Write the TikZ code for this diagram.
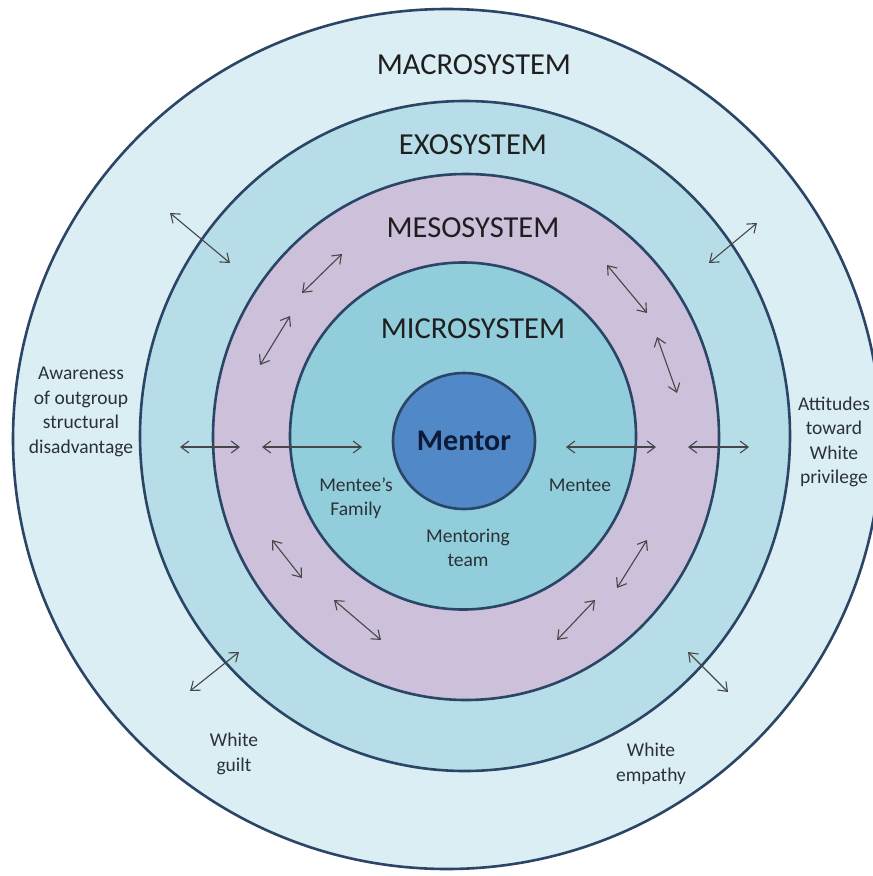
\documentclass[tikz,border=0pt]{standalone}
\usepackage{fontspec}
\setmainfont{Carlito}
\usetikzlibrary{arrows.meta,shapes.geometric}
\definecolor{macrofill}{HTML}{DBEEF4}
\definecolor{exofill}{HTML}{B7DEE8}
\definecolor{mesofill}{HTML}{CCC0DA}
\definecolor{microfill}{HTML}{92CDDC}
\definecolor{mentorfill}{HTML}{5088C8}
\definecolor{ringline}{HTML}{2A4566}
\definecolor{labeltext}{HTML}{2A3236}
\definecolor{mentortext}{HTML}{0E1B38}

\begin{document}
\begin{tikzpicture}[x=1pt, y=-1pt,
    ring/.style={ellipse, draw=ringline, line width=2.6pt, inner sep=0pt},
    sysname/.style={font=\fontsize{30.5}{35}\selectfont, text=black!88},
    lbl/.style={font=\fontsize{19.5}{24.5}\selectfont, align=center, text=labeltext},
    twoway/.style={draw=black!72, line width=1.1pt,
                   {Straight Barb[length=8pt,width=12pt]}-{Straight Barb[length=8pt,width=12pt]}},
]
\useasboundingbox (0,0) rectangle (873,876);
\fill[white] (0,0) rectangle (873,876);
\node[ring, fill=macrofill, minimum width=868pt, minimum height=860pt] (macro) at (447,439) {};
\node[ring, fill=exofill, minimum width=650pt, minimum height=670pt] (exo) at (465,436) {};
\node[ring, fill=mesofill, minimum width=506pt, minimum height=526pt] (meso) at (466,437) {};
\node[ring, fill=microfill, minimum width=346pt, minimum height=347pt] (micro) at (463,436) {};
\node[ring, fill=mentorfill, minimum width=142pt, minimum height=136pt,
      font=\fontsize{30}{35}\selectfont\bfseries, text=mentortext] (mentor) at (464,441) {Mentor};

\node[sysname] (macrotitle) at (474,65) {MACROSYSTEM};
\node[sysname] (exotitle) at (473,145) {EXOSYSTEM};
\node[sysname] (mesotitle) at (473,228) {MESOSYSTEM};
\node[sysname] (microtitle) at (473,329) {MICROSYSTEM};

\node[lbl] (awareness) at (81,412) {Awareness\\of outgroup\\structural\\disadvantage};
\node[lbl] (attitudes) at (834,442) {Attitudes\\toward\\White\\privilege};
\node[lbl] (family) at (356,498) {Mentee’s\\Family};
\node[lbl] (mentee) at (580,485) {Mentee};
\node[lbl] (team) at (468,548) {Mentoring\\team};
\node[lbl] (guilt) at (234,754) {White\\guilt};
\node[lbl] (empathy) at (651,764) {White\\empathy};

\foreach \i/\ax/\ay/\bx/\by in {1/170/213/230/263, 2/342/254/302/293, 3/290/316/260/365,
    4/757/223/709/263, 5/607/265/647/313, 6/657/337/677/393,
    7/180/447/240/447, 8/262/447/362/447, 9/566/447/656/447, 10/688/447/749/447,
    11/272/540/302/578, 12/334/600/381/640, 13/239/652/190/691,
    14/647/540/617/588, 15/595/600/557/640, 16/688/652/728/692}{
  \coordinate (from\i) at (\ax,\ay);
  \coordinate (to\i) at (\bx,\by);
  \draw[twoway] (from\i) -- (to\i);
}
\end{tikzpicture}
\end{document}
